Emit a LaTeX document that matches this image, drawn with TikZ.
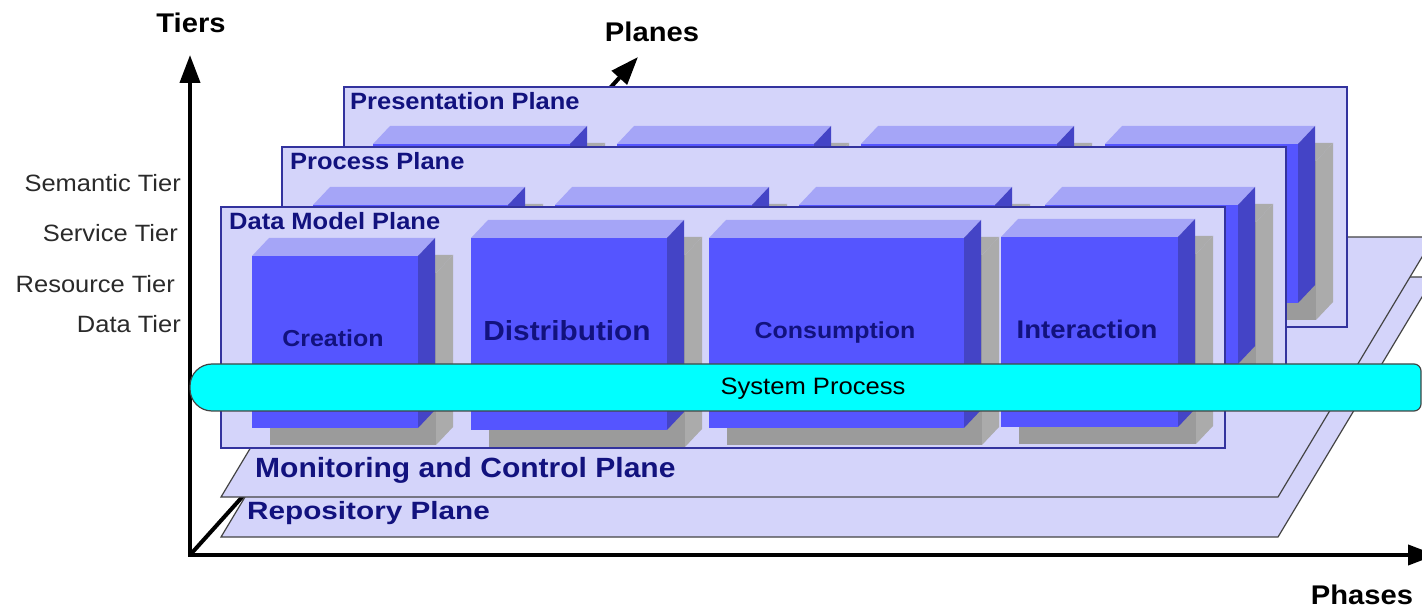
\documentclass[tikz,border=0pt]{standalone}
\usepackage{fontspec}
\usepackage{graphicx}
\setmainfont{Liberation Sans}[FakeStretch=1.08]
\usetikzlibrary{arrows.meta}

\definecolor{planefill}{HTML}{D4D4FA}
\definecolor{planeedge}{HTML}{33339E}
\definecolor{groundedge}{HTML}{444444}
\definecolor{cubefront}{HTML}{5555FF}
\definecolor{cubetop}{HTML}{A5A5F7}
\definecolor{cubeside}{HTML}{4444C6}
\definecolor{shadefront}{HTML}{9B9B9B}
\definecolor{shadeside}{HTML}{ABABAB}
\definecolor{navytext}{HTML}{12127E}
\definecolor{tiertext}{HTML}{2A2A2A}
\definecolor{barfill}{HTML}{00FFFF}

% a bevelled block with its grey drop shadow: left, top, right, bottom
\newcommand{\phaseblock}[4]{%
  \fill[shadefront] ({#1+18},{#2+17}) rectangle ({#3+18},{#4+17});
  \fill[shadeside] ({#3+18},{#2+17}) -- ({#3+35},{#2-1}) -- ({#3+35},{#4-1}) -- ({#3+18},{#4+17}) -- cycle;
  \fill[shadeside] ({#1+18},{#2+17}) -- ({#1+35},{#2-1}) -- ({#3+35},{#2-1}) -- ({#3+18},{#2+17}) -- cycle;
  \fill[cubefront] (#1,#2) rectangle (#3,#4);
  \fill[cubetop] (#1,#2) -- ({#1+17},{#2-18}) -- ({#3+17},{#2-18}) -- (#3,#2) -- cycle;
  \fill[cubeside] (#3,#2) -- ({#3+17},{#2-18}) -- ({#3+17},{#4-18}) -- (#3,#4) -- cycle;
}

\tikzset{
  axisline/.style={line width=4pt, -{Triangle[length=28pt,width=20pt]}},
  axislabel/.style={inner sep=0pt, anchor=base, font=\bfseries\fontsize{27}{30}\selectfont},
  tierlabel/.style={inner sep=0pt, anchor=base east, text=tiertext, font=\fontsize{23.6}{26}\selectfont},
  planelabel/.style={inner sep=0pt, anchor=base west, text=navytext, font=\bfseries\fontsize{23.6}{26}\selectfont},
  groundlabel/.style={inner sep=0pt, anchor=base west, text=navytext, font=\bfseries\fontsize{27.8}{30}\selectfont},
  blocklabel/.style={inner sep=0pt, anchor=base, text=navytext, font=\bfseries\fontsize{23.1}{26}\selectfont},
  uprightplane/.style={fill=planefill, draw=planeedge, line width=1.5pt},
  groundplane/.style={fill=planefill, draw=groundedge, line width=1.2pt},
}

\begin{document}
\begin{tikzpicture}[x=1pt, y=-1pt]
\useasboundingbox (0,0) rectangle (1422,609);
\clip (0,0) rectangle (1422,609);

% axes
\coordinate (origin) at (190,555);
\coordinate (tiersTip) at (190,55);
\coordinate (phasesTip) at (1436,555);
\coordinate (planesTip) at (638,57);
\draw[axisline] (origin) -- (planesTip);
\draw[axisline] ([yshift=2pt]origin) -- (tiersTip);
\draw[axisline] ([xshift=-2pt]origin) -- (phasesTip);

% horizontal planes
\draw[groundplane] (221,537) -- (1278,537) -- (1434,277) -- (377,277) -- cycle;
\draw[groundplane] (221,497) -- (1278,497) -- (1434,237) -- (377,237) -- cycle;

% presentation plane
\draw[uprightplane] (344,87) rectangle (1347,327);
\phaseblock{373}{144}{570}{303}
\phaseblock{617}{144}{814}{303}
\phaseblock{861}{144}{1057}{303}
\phaseblock{1105}{144}{1298}{303}

% process plane
\draw[uprightplane] (282,147) rectangle (1286,388);
\phaseblock{313}{205}{508}{364}
\phaseblock{555}{205}{752}{364}
\phaseblock{799}{205}{995}{364}
\phaseblock{1045}{205}{1238}{364}

% data model plane
\draw[uprightplane] (221,207) rectangle (1225,448);
\phaseblock{252}{256}{418}{428}
\phaseblock{471}{238}{667}{430}
\phaseblock{709}{238}{964}{428}
\phaseblock{1001}{237}{1178}{427}

% system process band
\draw[fill=barfill, draw=groundedge, line width=1.2pt]
  (800,364) [rounded corners=22pt] -- (190,364) -- (190,411) -- (800,411)
  [rounded corners=7pt] -- (1421,411) -- (1421,364) -- cycle;
\node[inner sep=0pt, anchor=base, font=\fontsize{23.7}{26}\selectfont] (sysproc) at (813,395) {System Process};

% block labels
\node[blocklabel] (creation) at (333,347) {Creation};
\node[blocklabel, font=\bfseries\fontsize{27.6}{30}\selectfont] (distribution) at (567,341) {Distribution};
\node[blocklabel] (consumption) at (835,339) {Consumption};
\node[blocklabel, font=\bfseries\fontsize{25.5}{28}\selectfont] (interaction) at (1087,339) {Interaction};

% plane labels
\node[planelabel] (presentation) at (350,110) {Presentation Plane};
\node[planelabel] (process) at (290,170) {Process Plane};
\node[planelabel] (datamodel) at (229,230) {Data Model Plane};
\node[groundlabel] (monitoring) at (255,478) {Monitoring and Control Plane};
\node[groundlabel, font=\bfseries\fontsize{25}{28}\selectfont] (repository) at (247,519) {\scalebox{1.1}[1]{Repository Plane}};

% tier labels
\node[tierlabel] (semantic) at (181,192) {Semantic Tier};
\node[tierlabel] (service) at (178,242) {Service Tier};
\node[tierlabel] (resource) at (175,293) {Resource Tier};
\node[tierlabel] (datatier) at (181,333) {Data Tier};

% axis labels
\node[axislabel] (tiers) at (191,33) {Tiers};
\node[axislabel] (planes) at (652,42) {Planes};
\node[axislabel] (phases) at (1362,604) {Phases};
\end{tikzpicture}
\end{document}
